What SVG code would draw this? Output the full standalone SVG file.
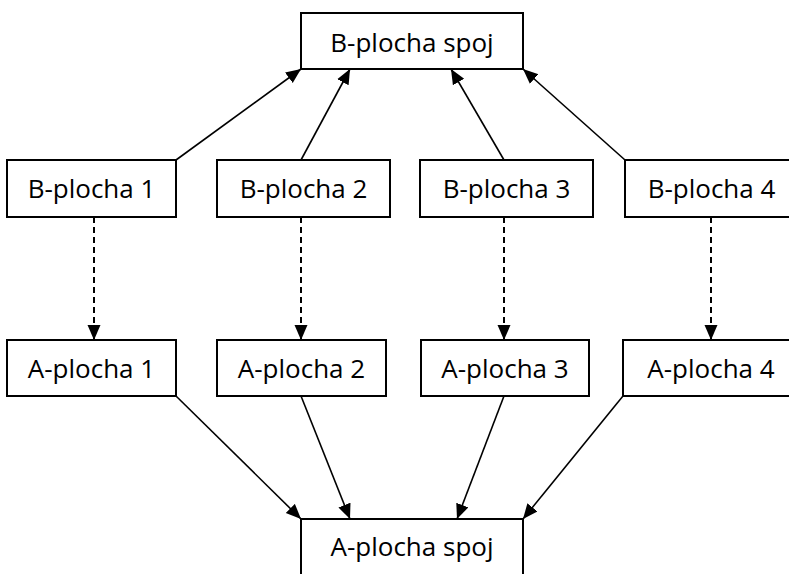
<svg xmlns="http://www.w3.org/2000/svg" width="789" height="574" viewBox="0 0 789 574">
<defs>
<style>
.box{fill:#fff;stroke:#000;stroke-width:2}
.lbl{font-family:"Open Sans","Liberation Sans",sans-serif;font-size:26px;fill:#000;text-anchor:middle}
.sol{stroke:#000;stroke-width:1.6;fill:none;marker-end:url(#ah)}
.dash{stroke:#000;stroke-width:2;fill:none;stroke-dasharray:6,4;marker-end:url(#ah)}
</style>
<marker id="ah" markerUnits="userSpaceOnUse" markerWidth="16" markerHeight="14" refX="15" refY="6.5" orient="auto">
<path d="M0,0 L15,6.5 L0,13 z" fill="#000"/>
</marker>
</defs>
<rect width="789" height="574" fill="#fff"/>
<g id="connectors">
<line class="sol" x1="176" y1="160" x2="301" y2="69"/>
<line class="sol" x1="301" y1="160" x2="350" y2="69"/>
<line class="sol" x1="504" y1="160" x2="451" y2="69"/>
<line class="sol" x1="625" y1="160" x2="523" y2="69"/>
<line class="dash" x1="94" y1="217" x2="94" y2="340"/>
<line class="dash" x1="301" y1="217" x2="301" y2="340"/>
<line class="dash" x1="504" y1="217" x2="504" y2="340"/>
<line class="dash" x1="711" y1="217" x2="711" y2="340"/>
<line class="sol" x1="176" y1="396" x2="301" y2="519"/>
<line class="sol" x1="301" y1="396" x2="350" y2="519"/>
<line class="sol" x1="504" y1="396" x2="457" y2="519"/>
<line class="sol" x1="623" y1="396" x2="523" y2="519"/>
</g>
<g id="bspoj"><rect class="box" x="301" y="13" width="222" height="56"/><text class="lbl" x="412" y="52">B-plocha spoj</text></g>
<g id="b1"><rect class="box" x="7" y="160" width="169" height="57"/><text class="lbl" x="91.5" y="198">B-plocha 1</text></g>
<g id="b2"><rect class="box" x="217" y="160" width="173" height="57"/><text class="lbl" x="303.5" y="198">B-plocha 2</text></g>
<g id="b3"><rect class="box" x="420" y="160" width="173" height="57"/><text class="lbl" x="506.5" y="198">B-plocha 3</text></g>
<g id="b4"><rect class="box" x="625" y="160" width="173" height="57"/><text class="lbl" x="711.5" y="198">B-plocha 4</text></g>
<g id="a1"><rect class="box" x="7" y="340" width="169" height="56"/><text class="lbl" x="91.5" y="378">A-plocha 1</text></g>
<g id="a2"><rect class="box" x="217" y="340" width="169" height="56"/><text class="lbl" x="301.5" y="378">A-plocha 2</text></g>
<g id="a3"><rect class="box" x="421" y="340" width="168" height="56"/><text class="lbl" x="505" y="378">A-plocha 3</text></g>
<g id="a4"><rect class="box" x="623" y="340" width="173" height="56"/><text class="lbl" x="711" y="378">A-plocha 4</text></g>
<g id="aspoj"><rect class="box" x="301" y="519" width="222" height="60"/><text class="lbl" x="412" y="556">A-plocha spoj</text></g>
</svg>
